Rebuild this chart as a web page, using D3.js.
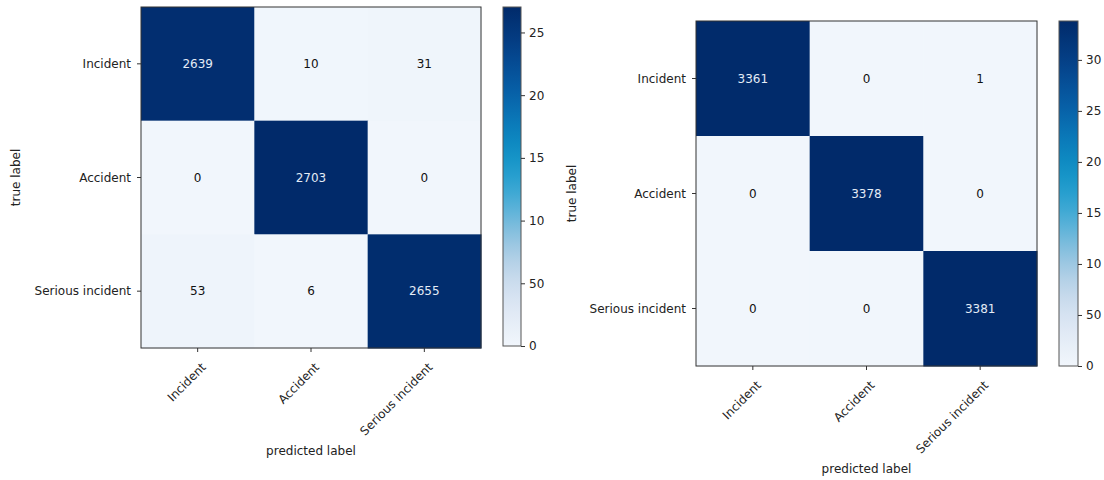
<!DOCTYPE html>
<html><head><meta charset="utf-8">
<script src="https://cdn.jsdelivr.net/npm/d3@7"></script>
<style>
html,body{margin:0;padding:0;background:#fff;}
svg{display:block;font-family:"DejaVu Sans",sans-serif;}
</style></head>
<body><svg id="chart" width="1104" height="480"></svg>
<script>
const classes = ["Incident", "Accident", "Serious incident"];
const matrixLeft = [[2639, 10, 31], [0, 2703, 0], [53, 6, 2655]];
const matrixRight = [[3361, 0, 1], [0, 3378, 0], [0, 0, 3381]];
const cbTicksLeft = [0, 500, 1000, 1500, 2000, 2500];
const cbLabelsLeft = ["0", "50", "10", "15", "20", "25"];
const cbTicksRight = [0, 500, 1000, 1500, 2000, 2500, 3000];
const cbLabelsRight = ["0", "50", "10", "15", "20", "25", "30"];
const xTitle = "predicted label";
const yTitle = "true label";

const svg = d3.select("#chart");
const axisColor = "#333";
const textColor = "#222";
const FS = 12;
// Blues-like ramp as it appears in the picture (slightly cyan in the middle)
const ramp = d3.interpolateRgbBasis(["#f1f6fc", "#dfe8f4", "#c4d7eb", "#8cc0de", "#3eaad6", "#0e95c8", "#0a78b8", "#0658a2", "#043f86", "#012a6a"]);

function panel(cfg) {
  const g = svg.append("g");
  const m = cfg.matrix;
  const max = d3.max(m.flat());
  const color = d3.scaleSequential(ramp).domain([0, max]);
  const x = d3.scaleBand().domain(d3.range(classes.length)).range([cfg.left, cfg.right]);
  const y = d3.scaleBand().domain(d3.range(classes.length)).range([cfg.top, cfg.bottom]);
  const cells = [];
  m.forEach((row, i) => row.forEach((v, j) => cells.push({i, j, v})));
  g.selectAll("rect.cell").data(cells).join("rect")
    .attr("x", d => x(d.j)).attr("y", d => y(d.i))
    .attr("width", x.bandwidth() + 0.5).attr("height", y.bandwidth() + 0.5)
    .attr("fill", d => color(d.v));
  g.selectAll("text.val").data(cells).join("text")
    .attr("x", d => x(d.j) + x.bandwidth() / 2)
    .attr("y", d => y(d.i) + y.bandwidth() / 2)
    .attr("text-anchor", "middle").attr("dominant-baseline", "central")
    .attr("font-size", FS)
    .attr("fill", d => d.v > max / 2 ? "#e4ecf6" : "#111")
    .text(d => d.v);
  g.append("rect").attr("x", cfg.left).attr("y", cfg.top)
    .attr("width", cfg.right - cfg.left).attr("height", cfg.bottom - cfg.top)
    .attr("fill", "none").attr("stroke", axisColor).attr("stroke-width", 1);
  classes.forEach((c, i) => {
    const yy = y(i) + y.bandwidth() / 2;
    g.append("line").attr("x1", cfg.left - 4).attr("x2", cfg.left).attr("y1", yy).attr("y2", yy)
      .attr("stroke", axisColor);
    g.append("text").attr("x", cfg.left - 10).attr("y", yy).attr("text-anchor", "end")
      .attr("dominant-baseline", "central").attr("font-size", FS).attr("fill", textColor).text(c);
    const xx = x(i) + x.bandwidth() / 2;
    g.append("line").attr("x1", xx).attr("x2", xx).attr("y1", cfg.bottom).attr("y2", cfg.bottom + 4)
      .attr("stroke", axisColor);
    g.append("text").attr("transform", `translate(${xx + 3},${cfg.bottom + 14}) rotate(-45)`)
      .attr("text-anchor", "end").attr("dy", "0.7em").attr("font-size", FS).attr("fill", textColor).text(c);
  });
  g.append("text").attr("x", (cfg.left + cfg.right) / 2).attr("y", cfg.xTitleY)
    .attr("text-anchor", "middle").attr("font-size", FS).attr("fill", textColor).text(xTitle);
  g.append("text").attr("transform", `translate(${cfg.yTitleX},${(cfg.top + cfg.bottom) / 2}) rotate(-90)`)
    .attr("text-anchor", "middle").attr("font-size", FS).attr("fill", textColor).text(yTitle);
  const cb = d3.scaleLinear().domain([0, max]).range([cfg.cbBottom, cfg.cbTop]);
  const gid = "grad" + cfg.id;
  const grad = svg.append("defs").append("linearGradient").attr("id", gid)
    .attr("x1", 0).attr("x2", 0).attr("y1", 1).attr("y2", 0);
  d3.range(0, 1.0001, 0.05).forEach(t => grad.append("stop").attr("offset", t).attr("stop-color", ramp(t)));
  g.append("rect").attr("x", cfg.cbLeft).attr("y", cfg.cbTop).attr("width", cfg.cbWidth)
    .attr("height", cfg.cbBottom - cfg.cbTop).attr("fill", `url(#${gid})`)
    .attr("stroke", "#555").attr("stroke-width", 1);
  const axis = d3.axisRight(cb).tickValues(cfg.cbTicks).tickSize(4).tickPadding(4)
    .tickFormat((d, i) => cfg.cbLabels[i]);
  const ag = g.append("g").attr("transform", `translate(${cfg.cbLeft + cfg.cbWidth},0)`).call(axis);
  ag.select(".domain").remove();
  ag.selectAll("line").attr("stroke", axisColor);
  ag.selectAll("text").attr("font-size", FS).attr("fill", textColor).attr("font-family", "DejaVu Sans");
}

panel({id: "L", matrix: matrixLeft, left: 141, right: 481, top: 7, bottom: 348,
  xTitleY: 455, yTitleX: 20, cbLeft: 503, cbWidth: 18, cbTop: 7, cbBottom: 346,
  cbTicks: cbTicksLeft, cbLabels: cbLabelsLeft});
panel({id: "R", matrix: matrixRight, left: 696, right: 1037, top: 21, bottom: 366,
  xTitleY: 473, yTitleX: 576, cbLeft: 1059, cbWidth: 19, cbTop: 21, cbBottom: 366,
  cbTicks: cbTicksRight, cbLabels: cbLabelsRight});
</script></body></html>
